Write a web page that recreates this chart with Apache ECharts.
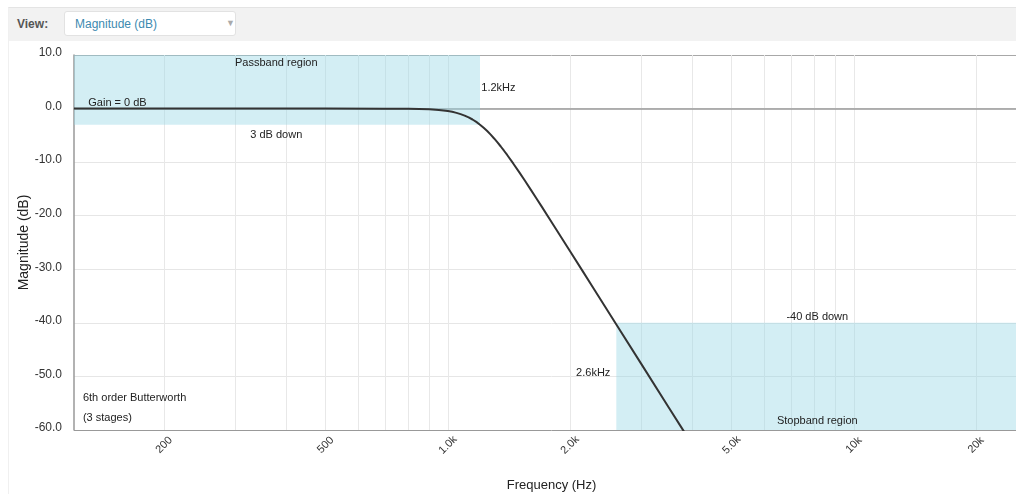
<!DOCTYPE html>
<html>
<head>
<meta charset="utf-8">
<script src="https://cdn.jsdelivr.net/npm/echarts@6/dist/echarts.min.js"></script>
<style>
  html, body { margin:0; padding:0; background:#fff; width:1016px; height:494px; overflow:hidden;
    font-family: "Liberation Sans", Arial, sans-serif; position:relative; }
  #frame { position:absolute; left:8px; top:7px; width:1100px; height:600px; border-left:1px solid #f0f0f0; border-top:1px solid #e4e4e4; }
  #bar { position:absolute; left:9px; top:8px; width:1100px; height:33px; background:#f2f2f2; }
  #viewLbl { position:absolute; left:17px; top:17px; font-size:12px; color:#555; font-weight:bold; }
  #sel { position:absolute; left:64px; top:11px; width:172px; height:25px; background:#fff;
    border:1px solid #e2e2e2; border-radius:3px; box-sizing:border-box; }
  #selTxt { position:absolute; left:10px; top:5px; font-size:12px; color:#3d8ab0; }
  #selArr { position:absolute; left:161px; top:6px; font-size:9px; color:#aaa; }
  #chart { position:absolute; left:0; top:0; width:1029px; height:494px; }
</style>
</head>
<body>
<div id="frame"></div>
<div id="chart"></div>
<div id="bar"></div>
<div id="viewLbl">View:</div>
<div id="sel"><span id="selTxt">Magnitude (dB)</span><span id="selArr">&#9660;</span></div>
<script>
// ---- data ----
const freqHz = [120, 300, 500, 700, 800, 850, 900, 950, 1000, 1025, 1050, 1075, 1100, 1125, 1150, 1175, 1200, 1225, 1250, 1275, 1300, 1325, 1350, 1375, 1400, 1450, 1500, 1550, 1600, 1650, 1700, 1800, 1900, 2000, 2150, 2300, 2600, 3000, 3500, 3800, 4000];
const magDb  = [0, 0, 0, -0.01, -0.03, -0.07, -0.14, -0.26, -0.46, -0.61, -0.80, -1.03, -1.31, -1.65, -2.04, -2.49, -3.01, -3.58, -4.20, -4.87, -5.58, -6.32, -7.08, -7.87, -8.66, -10.29, -11.92, -13.53, -15.13, -16.69, -18.21, -21.16, -23.97, -26.63, -30.39, -33.9, -40.3, -47.75, -55.79, -60.07, -62.75];
const xMin = 120, xMax = 27000;
const yMin = -60, yMax = 10;
const xGridValues = [200, 300, 400, 500, 600, 700, 800, 900, 1000, 2000, 3000, 4000, 5000, 6000, 7000, 8000, 9000, 10000, 20000];
const xLabelValues = [200, 500, 1000, 2000, 5000, 10000, 20000];
const passband = { fEdge: 1200, dbTop: 10, dbBottom: -3 };
const stopband = { fEdge: 2600, dbTop: -40, dbBottom: -60 };

const chart = echarts.init(document.getElementById('chart'));
const font = '"Liberation Sans", Arial, sans-serif';

function note(text, coord, align) {
  return {
    coord: coord, value: text, symbol: 'circle', symbolSize: 1,
    itemStyle: { color: 'rgba(0,0,0,0)' },
    label: { show: true, formatter: text, position: [0, 0], align: align, verticalAlign: 'middle',
      offset: [0, 1.5], color: '#222', fontSize: 11, fontFamily: font }
  };
}

const option = {
  animation: false,
  grid: { left: 74, top: 55, right: 0, bottom: 64, containLabel: false, outerBoundsMode: 'none' },
  xAxis: {
    type: 'log', logBase: 10, min: xMin, max: xMax,
    name: 'Frequency (Hz)', nameLocation: 'middle', nameGap: 49, nameMoveOverlap: false,
    nameTextStyle: { color: '#222', fontSize: 13, fontFamily: font },
    axisLine: { show: true, lineStyle: { color: '#999', width: 1.5 } },
    axisTick: { show: false, customValues: xGridValues },
    axisLabel: {
      customValues: xLabelValues, rotate: 45, margin: 15, align: 'center', verticalAlign: 'middle',
      color: '#333', fontSize: 11, fontFamily: font,
      formatter: function (v) {
        if (v >= 10000) return (v / 1000) + 'k';
        if (v >= 1000) return (v / 1000).toFixed(1) + 'k';
        return String(v);
      }
    },
    splitLine: { show: true, lineStyle: { color: '#e8e8e8', width: 1 } }
  },
  yAxis: {
    type: 'value', min: yMin, max: yMax, interval: 10,
    name: 'Magnitude (dB)', nameLocation: 'middle', nameGap: 43, nameMoveOverlap: false,
    nameTextStyle: { color: '#222', fontSize: 14, fontFamily: font },
    axisLine: { show: true, lineStyle: { color: '#999', width: 1.5 } },
    axisTick: { show: false },
    axisLabel: { color: '#333', fontSize: 12, fontFamily: font, margin: 12,
      verticalAlign: 'bottom', lineHeight: 4,
      formatter: function (v) { return v.toFixed(1); } },
    splitLine: { show: true, lineStyle: {
      color: ['#999', '#e6e6e6', '#e6e6e6', '#e6e6e6', '#e6e6e6', '#e6e6e6', '#e6e6e6', '#a8a8a8'], width: 1 } }
  },
  series: [{
    type: 'line',
    data: freqHz.map((f, i) => [f, magDb[i]]),
    showSymbol: false, smooth: false, clip: true,
    lineStyle: { color: '#333', width: 2 },
    markArea: {
      silent: true,
      itemStyle: { color: 'rgba(150,215,228,0.42)' },
      data: [
        [{ xAxis: xMin, yAxis: passband.dbTop }, { xAxis: passband.fEdge, yAxis: passband.dbBottom }],
        [{ xAxis: stopband.fEdge, yAxis: stopband.dbTop }, { xAxis: xMax, yAxis: stopband.dbBottom }]
      ]
    },
    markPoint: {
      silent: true,
      data: [
        note('Passband region', [379, 8.7], 'center'),
        note('Gain = 0 dB', [130.5, 1.2], 'left'),
        note('3 dB down', [379, -4.8], 'center'),
        note('1.2kHz', [1212, 4.0], 'left'),
        note('2.6kHz', [2520, -49.2], 'right'),
        note('-40 dB down', [8150, -38.8], 'center'),
        note('Stopband region', [8150, -58.2], 'center'),
        note('6th order Butterworth', [126.6, -53.9], 'left'),
        note('(3 stages)', [126.6, -57.6], 'left')
      ]
    }
  }]
};
chart.setOption(option);
</script>
</body>
</html>
